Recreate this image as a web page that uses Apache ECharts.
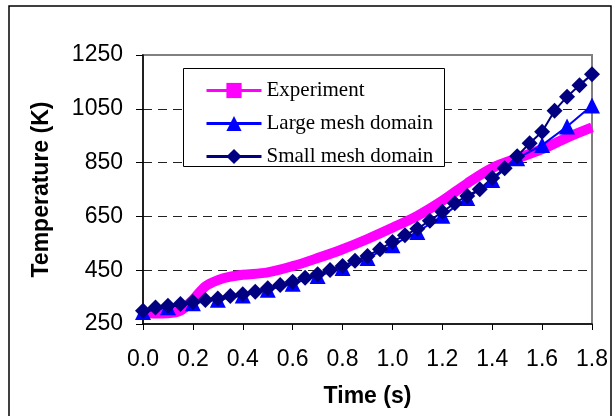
<!DOCTYPE html>
<html>
<head>
<meta charset="utf-8">
<title>Temperature vs time</title>
<script src="https://cdn.jsdelivr.net/npm/echarts@6.0.0/dist/echarts.min.js"></script>
<style>
  html, body { margin: 0; padding: 0; background: #fff; }
  #chart { width: 613px; height: 416px; }
</style>
</head>
<body>
<div id="chart"></div>
<script>
// 1. data
var expTime  = [0, 0.05, 0.1, 0.15, 0.2, 0.25, 0.3, 0.35, 0.4, 0.5, 0.6, 0.7, 0.8, 0.9, 1.0, 1.1, 1.2, 1.3, 1.4, 1.5, 1.6, 1.7, 1.8];
var expTemp  = [293, 289, 290, 300, 340, 390, 413, 426, 433, 442, 465, 495, 528, 566, 608, 652, 708, 773, 830, 866, 900, 943, 981];

var largeTime = [0, 0.1, 0.2, 0.3, 0.4, 0.5, 0.6, 0.7, 0.8, 0.9, 1.0, 1.1, 1.2, 1.3, 1.4, 1.5, 1.6, 1.7, 1.8];
var largeTemp = [295, 312, 327, 340, 356, 377, 400, 428, 458, 495, 543, 592, 652, 718, 785, 866, 915, 984, 1062];

var smallTime = [0, 0.05, 0.1, 0.15, 0.2, 0.25, 0.3, 0.35, 0.4, 0.45, 0.5, 0.55, 0.6, 0.65, 0.7, 0.75, 0.8, 0.85, 0.9,
                 0.95, 1.0, 1.05, 1.1, 1.15, 1.2, 1.25, 1.3, 1.35, 1.4, 1.45, 1.5, 1.55, 1.6, 1.65, 1.7, 1.75, 1.8];
var smallTemp = [299, 311, 318, 324, 332, 339, 345, 354, 361, 370, 383, 395, 407, 422, 435, 451, 466, 485, 503,
                 528, 555, 580, 604, 634, 667, 699, 726, 751, 793, 829, 874, 922, 965, 1043, 1095, 1138, 1178];

var xTicks = [0, 0.2, 0.4, 0.6, 0.8, 1.0, 1.2, 1.4, 1.6, 1.8];
var yTicks = [250, 450, 650, 850, 1050, 1250];

function pairs(xs, ys) {
    var out = [];
    for (var i = 0; i < xs.length; i++) out.push([xs[i], ys[i]]);
    return out;
}

// 2. chart
var chart = echarts.init(document.getElementById('chart'), null, { renderer: 'canvas' });

var sansFont = 'Liberation Sans, Arial, sans-serif';
var serifFont = 'Liberation Serif, Times New Roman, serif';

var option = {
    backgroundColor: '#ffffff',
    animation: false,
    grid: {
        left: 143, top: 55, width: 449, height: 269,
        show: true, borderColor: '#808080', borderWidth: 2, backgroundColor: 'transparent'
    },
    graphic: [
        // outer frame
        { type: 'rect', silent: true, z: 0,
          shape: { x: 9, y: 6, width: 602, height: 420 },
          style: { fill: 'none', stroke: '#000', lineWidth: 1.5 } },
        // legend box
        { type: 'rect', silent: true, z: 3,
          shape: { x: 183.5, y: 68.5, width: 261, height: 98 },
          style: { fill: '#fff', stroke: '#000', lineWidth: 1 } }
    ],
    legend: {
        orient: 'vertical',
        left: 200, top: 75,
        itemWidth: 55, itemHeight: 19, itemGap: 12,
        z: 5,
        textStyle: { fontFamily: serifFont, fontSize: 21, color: '#000' },
        data: [
            { name: 'Experiment', lineStyle: { width: 3 } },
            { name: 'Large mesh domain', lineStyle: { width: 3 } },
            { name: 'Small mesh domain', lineStyle: { width: 3 } }
        ]
    },
    xAxis: {
        type: 'value', min: 0, max: 1.8,
        name: 'Time (s)', nameLocation: 'middle', nameGap: 61,
        nameTextStyle: { fontFamily: sansFont, fontSize: 23, fontWeight: 'bold', color: '#000' },
        axisLine: { show: true, lineStyle: { color: '#000', width: 1.5 } },
        axisTick: { show: true, length: 6, customValues: xTicks, lineStyle: { color: '#000' } },
        axisLabel: {
            customValues: xTicks, margin: 24,
            fontFamily: sansFont, fontSize: 23, color: '#000',
            formatter: function (v) { return v.toFixed(1); }
        },
        splitLine: { show: false }
    },
    yAxis: {
        type: 'value', min: 250, max: 1250,
        name: 'Temperature (K)', nameLocation: 'middle', nameGap: 90,
        nameTextStyle: { fontFamily: sansFont, fontSize: 23, fontWeight: 'bold', color: '#000' },
        axisLine: { show: true, lineStyle: { color: '#000', width: 1.5 } },
        axisTick: { show: true, length: 7, customValues: yTicks, lineStyle: { color: '#000' } },
        axisLabel: {
            customValues: yTicks, margin: 20, fontFamily: sansFont, fontSize: 23, color: '#000',
            formatter: function (v) { return String(v); }
        },
        splitLine: {
            show: true, showMinLine: false, showMaxLine: false,
            lineStyle: { color: '#222', width: 1, type: [9, 6] }
        }
    },
    series: [
        {
            name: 'Experiment', type: 'line',
            data: pairs(expTime, expTemp),
            smooth: 0.35, symbol: 'rect', showSymbol: false,
            lineStyle: { color: '#FF00FF', width: 10 },
            itemStyle: { color: '#FF00FF' }
        },
        {
            name: 'Large mesh domain', type: 'line',
            data: pairs(largeTime, largeTemp),
            symbol: 'triangle', symbolSize: 16,
            lineStyle: { color: '#0000FF', width: 2 },
            itemStyle: { color: '#0000FF' }
        },
        {
            name: 'Small mesh domain', type: 'line',
            data: pairs(smallTime, smallTemp),
            symbol: 'diamond', symbolSize: 16,
            lineStyle: { color: '#000080', width: 2 },
            itemStyle: { color: '#000080' }
        }
    ]
};

chart.setOption(option);
</script>
</body>
</html>
